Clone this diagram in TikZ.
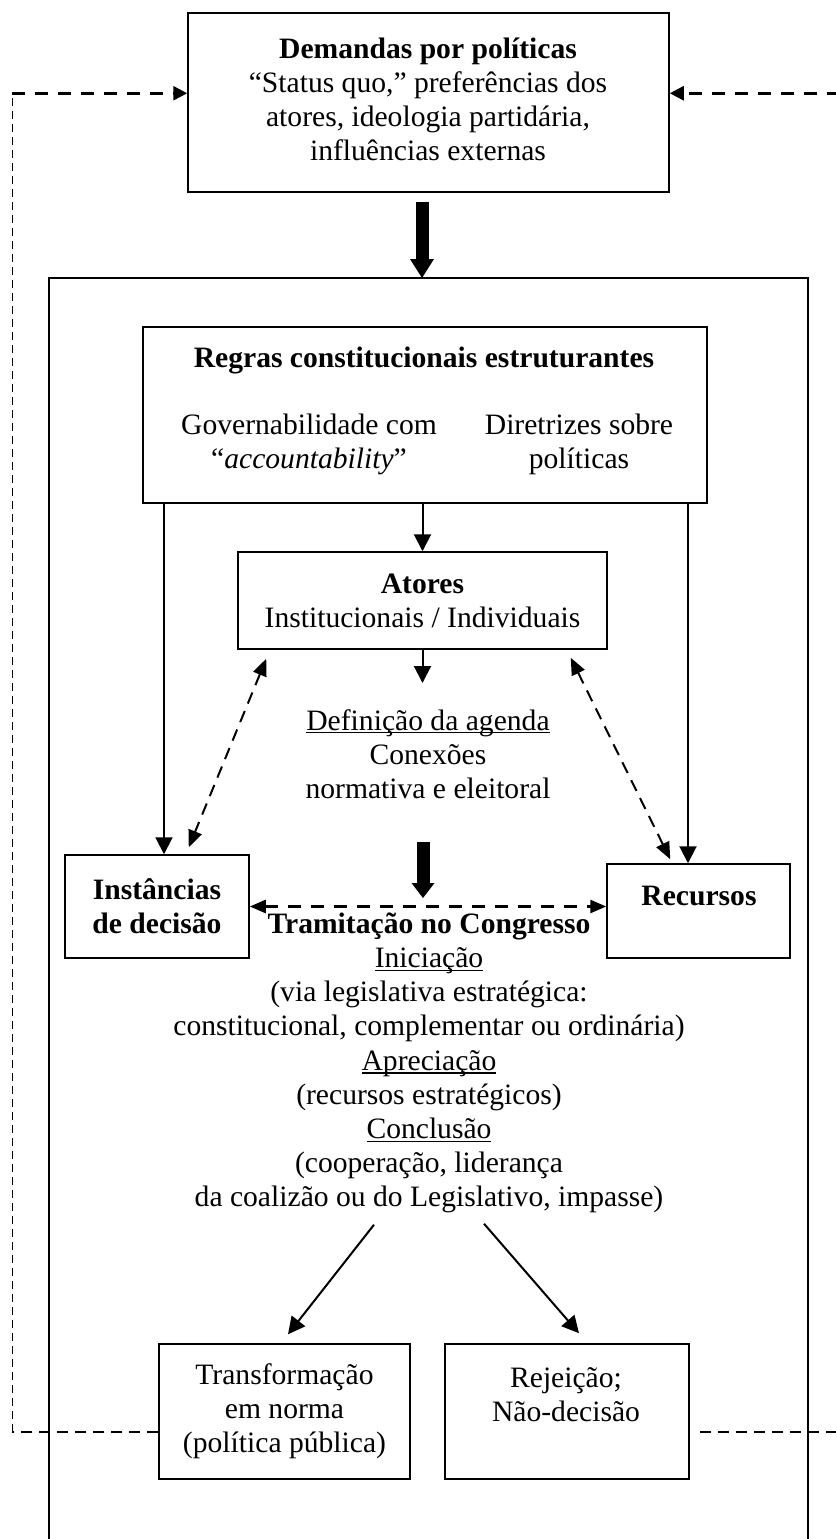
\documentclass[tikz,border=0pt]{standalone}
\usepackage{fontspec}
\setmainfont{Liberation Serif}
\usetikzlibrary{arrows.meta,calc}
\newsavebox{\ulbox}
\newcommand{\wul}[1]{\sbox{\ulbox}{#1}\rlap{\rule[-1.7pt]{\wd\ulbox}{0.6pt}}\usebox{\ulbox}}
\begin{document}
\begin{tikzpicture}[x=0.5pt,y=-0.5pt,font=\fontsize{14.8}{17.1}\selectfont,
  box/.style={draw,line width=0.75pt,inner sep=0pt,align=center},
  lbl/.style={inner sep=0pt,align=center},
  arr/.style={line width=1pt,-{Triangle[width=8.5pt,length=8.5pt]}},
  bigarr/.style={line width=6.5pt,-{Triangle[width=12pt,length=9.5pt,line width=0pt]}},
  bigarrb/.style={line width=6.5pt,-{Triangle[width=11.5pt,length=7.5pt,line width=0pt]}},
  dsh/.style={line width=1pt,dash pattern=on 6pt off 4pt},
  ddarr/.style={dsh,{Triangle[width=7pt,length=8.5pt]}-{Triangle[width=7pt,length=8.5pt]}},
  hdarr/.style={line width=1.25pt,dash pattern=on 6.5pt off 5pt,{Triangle[width=6.5pt,length=8pt]}-{Triangle[width=6.5pt,length=8pt]}},
  fbh/.style={line width=1.25pt,dash pattern=on 6.5pt off 5pt},
  fbv/.style={line width=0.5pt,dash pattern=on 4pt off 2.5pt},
  fbb/.style={line width=1pt,dash pattern=on 5.5pt off 3.5pt},
  tipfb/.style={-{Triangle[width=7pt,length=7pt]}}]
\useasboundingbox (0,0) rectangle (836,1539);

% nodes
\node[box,minimum width=240.5pt,minimum height=89.5pt] (dem) at (428.5,102.5) {};
\node[lbl] (demt) at (428,99.5) {\textbf{Demandas por políticas}\\“Status quo,” preferências dos\\atores, ideologia partidária,\\influências externas};

\draw[line width=0.75pt] (49,1545) -- (49,278) -- (808,278) -- (808,1545);
\coordinate (bigtop) at (422,278);

\node[box,minimum width=282pt,minimum height=88pt] (reg) at (425,415) {};
\node[lbl] (regt) at (424,360) {\textbf{Regras constitucionais estruturantes}};
\node[lbl] (gov) at (309,444.5) {Governabilidade com\\“\textit{accountability}”};
\node[lbl] (dir) at (579,444.5) {Diretrizes sobre\\políticas};

\node[box,minimum width=184.5pt,minimum height=48.5pt] (act) at (422.5,600.5) {\textbf{Atores}\\Institucionais / Individuais};

\node[lbl] (agd) at (428,754) {\wul{Definição da agenda}\\Conexões\\normativa e eleitoral};

\node[box,minimum width=92pt,minimum height=51.5pt] (ins) at (157,906.5) {\textbf{Instâncias}\\\textbf{de decisão}};
\node[box,minimum width=91.5pt,minimum height=47pt] (rec) at (698.5,911) {};
\node[lbl] (rect) at (699,896) {\textbf{Recursos}};

\node[lbl] (tram) at (429,1063) {\textbf{Tramitação no Congresso}\\\wul{Iniciação}\\(via legislativa estratégica:\\constitucional, complementar ou ordinária)\\\wul{Apreciação}\\(recursos estratégicos)\\\wul{Conclusão}\\(cooperação, liderança\\da coalizão ou do Legislativo, impasse)};

\node[box,minimum width=125.5pt,minimum height=67.5pt] (tra) at (284.5,1411.5) {Transformação\\em norma\\(política pública)};
\node[box,minimum width=122pt,minimum height=67.5pt] (rej) at (567,1411.5) {};
\node[lbl] (rejt) at (566,1394.5) {Rejeição;\\Não-decisão};

% helper coordinates
\coordinate (xL) at (164,0);
\coordinate (xR) at (688,0);
\coordinate (fbx) at (12,0);
\coordinate (edge) at (840,0);
\coordinate (agtop) at (422.5,683);
\coordinate (m1) at (423,842);
\coordinate (m2) at (423,898);

% connectors
\draw[bigarr,shorten <=4.5pt] (dem.south -| bigtop) -- (bigtop);
\draw[arr] (act.north |- reg.south) -- (act.north);
\draw[arr] (act.south) -- (agtop);
\draw[arr] (reg.south -| xL) -- (ins.north -| xL);
\draw[arr] (reg.south -| xR) -- (rec.north -| xR);
\draw[ddarr] ($(act.south west)+(29,9)$) -- ($(ins.north east)+(-61,-7)$);
\draw[ddarr] ($(act.south east)+(-37,8)$) -- ($(rec.north west)+(64,-4)$);
\draw[bigarrb] (m1) -- (m2);
\draw[hdarr] (ins.east) -- (ins.east -| rec.west);
\draw[arr] ($(tram.south)+(-55,11)$) -- ($(tra.north)+(3.5,-9)$);
\draw[arr] ($(tram.south)+(55,10)$) -- ($(rej.north)+(12,-10)$);

% feedback loops
\coordinate (fbA) at ($(tra.south west)+(0,-48)$);
\coordinate (fbB) at ($(dem.north west)+(0,81)$);
\coordinate (fbC) at ($(dem.north east)+(0,81)$);
\coordinate (fbD) at ($(rej.south east)+(10,-48)$);
\draw[fbb] (fbA) -- (fbA -| fbx);
\draw[fbv] (fbA -| fbx) -- (fbB -| fbx);
\draw[fbh,tipfb] (fbB -| fbx) -- (fbB);
\draw[fbh,tipfb] (fbC -| edge) -- (fbC);
\draw[fbb] (fbD) -- (fbD -| edge);
\end{tikzpicture}
\end{document}
